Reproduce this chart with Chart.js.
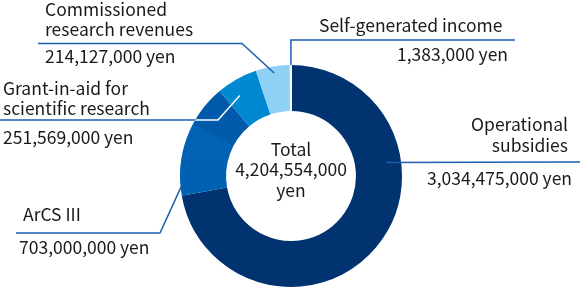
<!DOCTYPE html>
<html>
<head>
<meta charset="utf-8">
<script src="https://cdn.jsdelivr.net/npm/chart.js@4"></script>
<style>
  html, body { margin: 0; padding: 0; background: #fff; }
  #wrap { width: 580px; height: 292px; position: relative; }
</style>
</head>
<body>
<div id="wrap"><canvas id="c" width="580" height="292"></canvas></div>
<script>
// ---- data ----
const categories = ["Operational subsidies", "ArCS III", "Grant-in-aid for scientific research", "Commissioned research revenues", "Self-generated income"];
const values = [3034475000, 703000000, 251569000, 214127000, 1383000];
const valueLabels = ["3,034,475,000 yen", "703,000,000 yen", "251,569,000 yen", "214,127,000 yen", "1,383,000 yen"];
const totalLabel = ["Total", "4,204,554,000", "yen"];
const sliceColors = ["#00336f", "#0062b4", "#0088d2", "#8ed1f4", "#ffffff"];

const FONT = '17.5px "Noto Sans CJK JP", "Noto Sans", sans-serif';
const LINE = "#1c5fb0";

// ArCS slice drawn with a slightly darker upper part (as in the reference)
function arcsFill(ctx) {
  const chart = ctx.chart;
  const meta = chart.getDatasetMeta(0);
  const el = meta.data[0];
  if (!el || !el.x) return sliceColors[1];
  const c = chart.ctx;
  if (!c.createConicGradient) return sliceColors[1];
  const g = c.createConicGradient(-Math.PI / 2, el.x, el.y);
  g.addColorStop(0, "#0059a9");
  g.addColorStop(0.828, "#0062b4");
  g.addColorStop(0.828, "#0059a9");
  g.addColorStop(1, "#0059a9");
  return g;
}

// label/leader annotation plugin
const annot = {
  id: "annot",
  afterDatasetsDraw(chart) {
    const ctx = chart.ctx;
    const meta = chart.getDatasetMeta(0);
    const a0 = meta.data[0];
    const cx = a0.x, cy = a0.y, R = a0.outerRadius;
    function ringPt(i, frac, rf) {
      const el = meta.data[i];
      const ang = el.startAngle + (el.endAngle - el.startAngle) * frac;
      return [cx + Math.cos(ang) * R * rf, cy + Math.sin(ang) * R * rf];
    }
    ctx.save();
    ctx.lineWidth = 1.5;
    function poly(pts, color) {
      ctx.beginPath();
      ctx.strokeStyle = color || LINE;
      ctx.moveTo(pts[0][0], pts[0][1]);
      for (let k = 1; k < pts.length; k++) ctx.lineTo(pts[k][0], pts[k][1]);
      ctx.stroke();
    }
    // Operational
    poly([ringPt(0, 0.315, 0.865), [580, 162]]);
    // ArCS
    poly([[16, 233], [160, 233], ringPt(1, 0.075, 0.995)]);
    // Commissioned
    poly([[38, 43.5], [242, 43.5], ringPt(3, 0.5, 0.94)]);
    // Self-generated
    const sp = ringPt(4, 0.5, 1.0);
    poly([[515, 40], [sp[0], 40], [sp[0], sp[1]]]);
    // Grant: blue outside ring, white inside
    const gp = [[0, 120], [218, 120], ringPt(2, 0.35, 0.86)];
    ctx.save();
    ctx.beginPath();
    ctx.rect(0, 0, 580, 292);
    ctx.arc(cx, cy, R, 0, Math.PI * 2, true);
    ctx.clip("evenodd");
    poly(gp, LINE);
    ctx.restore();
    ctx.save();
    ctx.beginPath();
    ctx.arc(cx, cy, R, 0, Math.PI * 2);
    ctx.clip();
    poly(gp, "#ffffff");
    ctx.restore();

    // texts
    ctx.fillStyle = "#1a1a1a";
    ctx.font = FONT;
    ctx.textBaseline = "alphabetic";
    function t(s, x, y, al) { ctx.textAlign = al || "left"; ctx.fillText(s, x, y); }
    t("Commissioned", 45, 16);
    t("research revenues", 45, 36);
    t(valueLabels[3], 45, 63);
    t("Self-generated income", 319, 32);
    t(valueLabels[4], 508, 61, "right");
    t("Grant-in-aid for", 3, 95);
    t("scientific research", 3, 115);
    t(valueLabels[2], 3, 144);
    t("Operational", 568, 131, "right");
    t("subsidies", 568, 152, "right");
    t(valueLabels[0], 572, 185, "right");
    t("ArCS III", 23, 221);
    t(valueLabels[1], 19, 254);
    t(totalLabel[0], cx, 156, "center");
    t(totalLabel[1], cx, 176, "center");
    t(totalLabel[2], cx, 197, "center");
    ctx.restore();
  }
};

new Chart(document.getElementById("c"), {
  type: "doughnut",
  data: {
    labels: categories,
    datasets: [{
      data: values,
      backgroundColor: (ctx) => ctx.dataIndex === 1 ? arcsFill(ctx) : sliceColors[ctx.dataIndex],
      borderColor: "#ffffff",
      borderWidth: [0, 0, 0, 0, 2],
      hoverOffset: 0
    }]
  },
  options: {
    responsive: false,
    animation: false,
    devicePixelRatio: 1,
    cutout: "58.5%",
    rotation: 0,
    layout: { padding: { top: 64, bottom: 4, left: 179, right: 177 } },
    plugins: { legend: { display: false }, tooltip: { enabled: false } }
  },
  plugins: [annot]
});
</script>
</body>
</html>
